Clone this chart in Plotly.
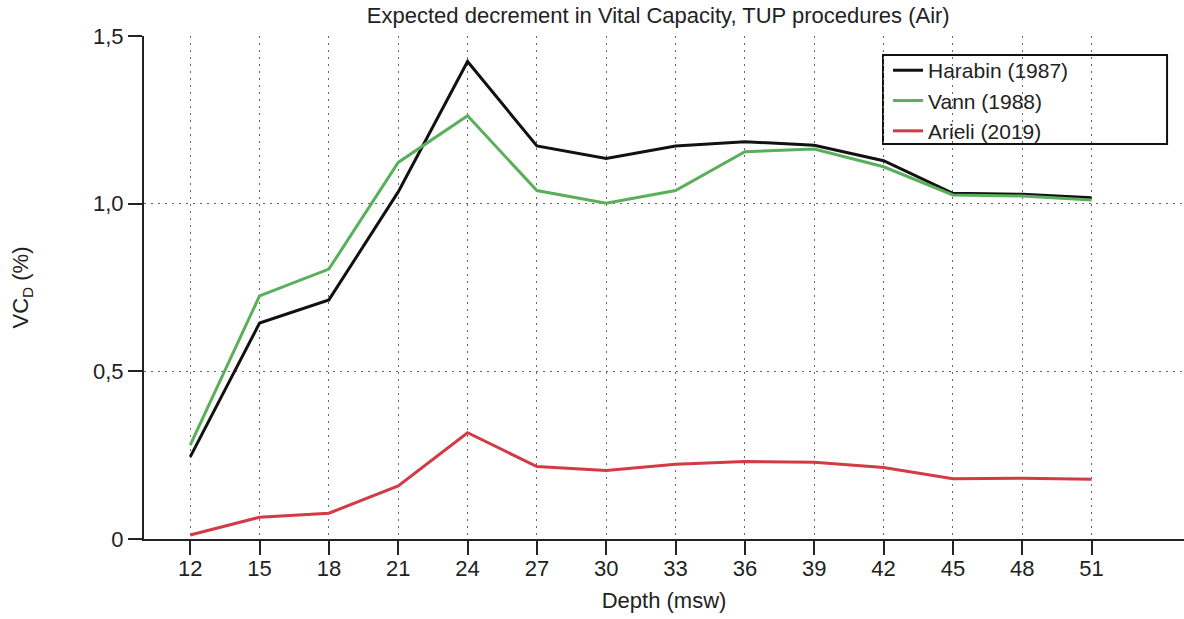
import plotly.graph_objects as go

# Depth (msw) and expected vital-capacity decrement (%) per model
depth = [12, 15, 18, 21, 24, 27, 30, 33, 36, 39, 42, 45, 48, 51]
harabin_1987 = [0.245, 0.644, 0.713, 1.035, 1.424, 1.172, 1.135, 1.172, 1.185, 1.174, 1.128, 1.031, 1.028, 1.018]
vann_1988 = [0.280, 0.725, 0.805, 1.123, 1.262, 1.039, 1.001, 1.039, 1.155, 1.163, 1.110, 1.026, 1.023, 1.011]
arieli_2019 = [0.012, 0.065, 0.077, 0.158, 0.317, 0.216, 0.204, 0.223, 0.231, 0.229, 0.213, 0.180, 0.181, 0.178]

y_tick_vals = [0, 0.5, 1.0, 1.5]
y_tick_text = ["0", "0,5", "1,0", "1,5"]

series = [
    ("Harabin (1987)", harabin_1987, "#111111"),
    ("Vann (1988)", vann_1988, "#5aaf5a"),
    ("Arieli (2019)", arieli_2019, "#d23a44"),
]

FONT = "Liberation Sans, Arial, Helvetica, sans-serif"
INK = "#222222"

fig = go.Figure()
for name, values, color in series:
    fig.add_trace(go.Scatter(
        x=depth, y=values, mode="lines", name=name,
        line=dict(color=color, width=3),
    ))

# Framed white panel behind the legend (covers the grid, sits under the traces)
fig.add_shape(
    type="rect", xref="paper", yref="paper",
    x0=0.7106, x1=0.9837, y0=0.7853, y1=0.9622,
    fillcolor="white", line=dict(color="#111111", width=2),
    layer="between",
)

fig.update_layout(
    width=1184, height=619,
    margin=dict(l=144, r=0, t=36, b=80),
    paper_bgcolor="white", plot_bgcolor="white",
    font=dict(family=FONT, size=22, color=INK),
    title=dict(
        text="Expected decrement in Vital Capacity, TUP procedures (Air)",
        x=0.4945, xref="paper", xanchor="center",
        y=1, yref="container", yanchor="top", pad=dict(t=8),
        font=dict(size=22, color=INK),
    ),
    showlegend=True,
    legend=dict(
        x=0.7154, y=0.972, xanchor="left", yanchor="top",
        bgcolor="rgba(0,0,0,0)", borderwidth=0,
        font=dict(size=21, color=INK),
        tracegroupgap=0,
    ),
)

grid_style = dict(showgrid=True, gridcolor="#666666", gridwidth=1, griddash="2px,5px")
axis_style = dict(
    showline=True, linecolor=INK, linewidth=2,
    ticks="outside", ticklen=14, tickwidth=2, tickcolor=INK,
    zeroline=False, automargin=False,
)

fig.update_xaxes(
    range=[10, 55], tickvals=depth, ticklabelstandoff=-5,
    **axis_style, **grid_style,
    title=dict(text="Depth (msw)", standoff=12, font=dict(size=22)),
)
fig.update_yaxes(
    range=[0, 1.5], tickvals=y_tick_vals, ticktext=y_tick_text,
    **axis_style, **grid_style,
    title=dict(text="VC<sub>D</sub> (%)", standoff=58, font=dict(size=22)),
)

fig.write_html("out.html")
